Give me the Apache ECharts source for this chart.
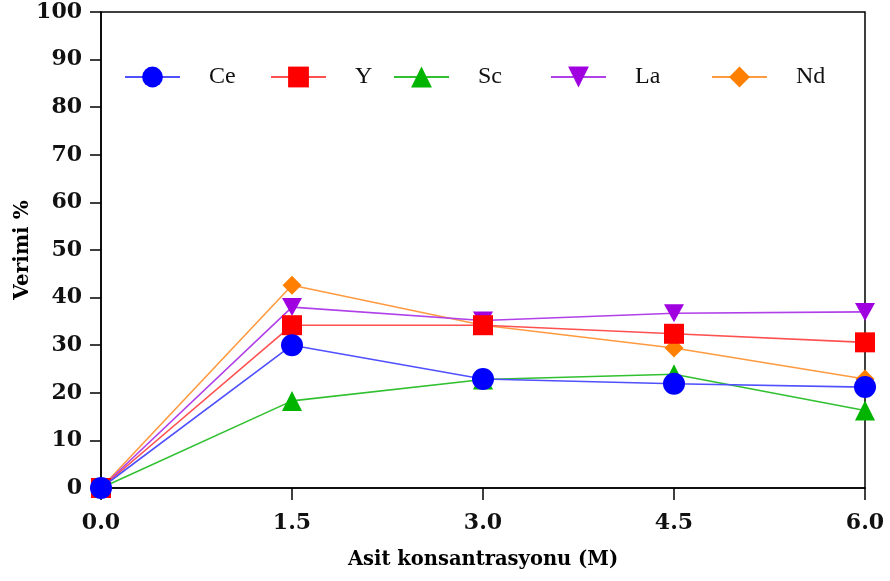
<!DOCTYPE html>
<html>
<head>
<meta charset="utf-8">
<script src="https://cdn.jsdelivr.net/npm/echarts@6/dist/echarts.min.js"></script>
<style>
  html, body { margin: 0; padding: 0; background: #fff; }
  #chart { width: 890px; height: 581px; }
</style>
</head>
<body>
<div id="chart"></div>
<script>
// Acid concentration (M) on the x axis
const concentrations = [0.0, 1.5, 3.0, 4.5, 6.0];

// Leaching yield (%) per element
const ceValues = [0, 30.0, 22.9, 21.9, 21.2];
const yValues  = [0, 34.2, 34.2, 32.4, 30.6];
const scValues = [0, 18.3, 22.8, 23.9, 16.3];
const laValues = [0, 38.0, 35.2, 36.7, 37.0];
const ndValues = [0, 42.6, 34.2, 29.4, 22.9];

const seriesNames = ['Ce', 'Y', 'Sc', 'La', 'Nd'];

const serif = '"DejaVu Serif", "Liberation Serif", serif';
const legendSerif = '"Liberation Serif", "DejaVu Serif", serif';

const styles = {
  Ce: { line: '#5050ff', mark: '#0000ff', symbol: 'circle', size: 22, z: 10, values: ceValues },
  Y:  { line: '#ff5050', mark: '#ff0000', symbol: 'rect', size: 20, z: 8, values: yValues },
  Sc: { line: '#30c030', mark: '#00b400', symbol: 'triangle', size: 20, z: 7, values: scValues },
  La: { line: '#b040e8', mark: '#a000e0', symbol: 'path://M0,0 L10,0 L5,9 Z', size: [20, 18], z: 6, values: laValues },
  Nd: { line: '#ff9a40', mark: '#ff7f00', symbol: 'diamond', size: 19, z: 5, values: ndValues }
};

// x position where each legend entry's line sample starts
const legendLeft = { Ce: 124, Y: 270, Sc: 393, La: 550, Nd: 711 };

const series = seriesNames.map(name => {
  const s = styles[name];
  return {
    name: name,
    type: 'line',
    data: concentrations.map((x, i) => [x, s.values[i]]),
    symbol: s.symbol,
    symbolSize: s.size,
    clip: false,
    z: s.z,
    lineStyle: { color: s.line, width: 1.6 },
    itemStyle: { color: s.mark },
    emphasis: { disabled: true }
  };
});

const legends = seriesNames.map(name => ({
  data: [name],
  left: legendLeft[name],
  top: 65,
  padding: 0,
  itemWidth: 55,
  itemHeight: 26,
  itemGap: 0,
  textStyle: { fontFamily: legendSerif, fontSize: 24, color: '#111', padding: [0, 0, 0, 24] },
  selectedMode: false
}));

const chart = echarts.init(document.getElementById('chart'));
chart.setOption({
  animation: false,
  backgroundColor: '#fff',
  legend: legends,
  grid: {
    left: 101, right: 25, top: 12, bottom: 93,
    show: true, borderColor: '#000', borderWidth: 1.5, backgroundColor: 'transparent'
  },
  xAxis: {
    type: 'value',
    min: 0, max: 6, interval: 1.5,
    name: 'Asit konsantrasyonu (M)',
    nameLocation: 'middle',
    nameGap: 62,
    nameMoveOverlap: false,
    nameTextStyle: { fontFamily: serif, fontSize: 19.5, fontWeight: 'bold', color: '#000' },
    axisLine: { show: true, lineStyle: { color: '#000', width: 1.5 } },
    axisTick: { show: true, length: 12, lineStyle: { color: '#000', width: 1.5 } },
    axisLabel: {
      margin: 24,
      fontFamily: serif, fontSize: 22, fontWeight: 'bold', color: '#111',
      formatter: v => v.toFixed(1)
    },
    splitLine: { show: false }
  },
  yAxis: {
    type: 'value',
    min: 0, max: 100, interval: 10,
    name: 'Verimi %',
    nameLocation: 'middle',
    nameGap: 68,
    nameMoveOverlap: false,
    nameTextStyle: { fontFamily: serif, fontSize: 20, fontWeight: 'bold', color: '#000' },
    axisLine: { show: true, lineStyle: { color: '#000', width: 1.5 } },
    axisTick: { show: true, length: 11, lineStyle: { color: '#000', width: 1.5 } },
    axisLabel: {
      margin: 19,
      fontFamily: serif, fontSize: 22, fontWeight: 'bold', color: '#111'
    },
    splitLine: { show: false }
  },
  series: series
});
</script>
</body>
</html>
